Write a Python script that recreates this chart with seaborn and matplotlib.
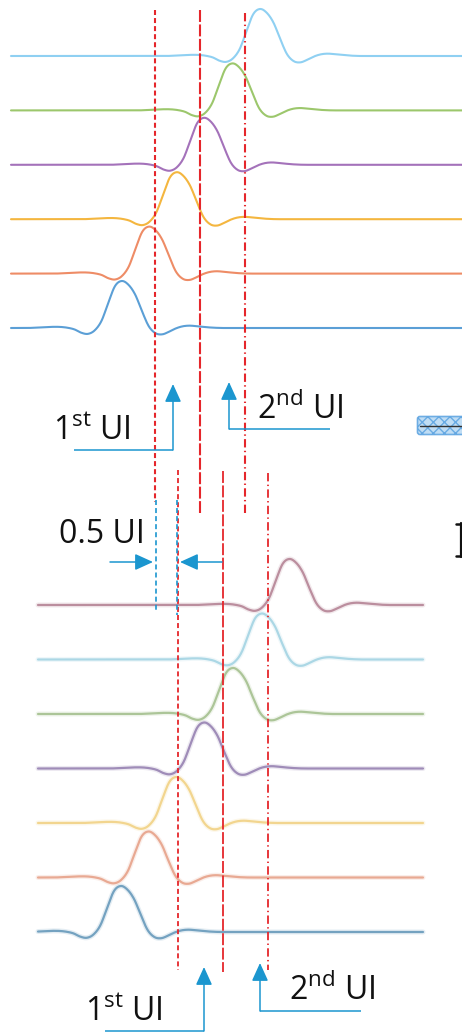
import numpy as np
import pandas as pd
import matplotlib
matplotlib.use("Agg")
import matplotlib.pyplot as plt
from matplotlib.patches import FancyBboxPatch
import seaborn as sns

sns.set_theme(style="white")
plt.rcParams["font.family"] = ["Open Sans", "DejaVu Sans"]
plt.rcParams["mathtext.fontset"] = "custom"
plt.rcParams["mathtext.rm"] = "Open Sans"
plt.rcParams["mathtext.it"] = "Open Sans:italic"
plt.rcParams["lines.scale_dashes"] = False

# ---- pulse response template (time in UI from the main cursor, amplitude normalised) ----
pulse_t = [-2.25, -2.1, -1.95, -1.8, -1.65, -1.5, -1.35, -1.2, -1.05, -0.9, -0.75, -0.6,
           -0.45, -0.3, -0.15, 0.0, 0.15, 0.3, 0.45, 0.6, 0.75, 0.9, 1.05, 1.2, 1.35,
           1.5, 1.65, 1.8, 1.95, 2.1, 2.25]
pulse_v = [0.0, 0.0, 0.005, 0.012, 0.02, 0.025, 0.022, 0.005, -0.03, -0.10, -0.125, -0.05,
           0.15, 0.53, 0.89, 1.0, 0.92, 0.71, 0.36, 0.04, -0.11, -0.135, -0.08, -0.01, 0.035,
           0.05, 0.04, 0.025, 0.012, 0.004, 0.0]

# main-cursor arrival time of each symbol (UI), bottom trace first
top_delays = [-0.74, -0.133, 0.482, 1.089, 1.718, 2.333]
bottom_delays = [-0.762, -0.149, 0.467, 1.089, 1.727, 2.371, 2.984]

top_colors = ["#5b9fd6", "#ee8c66", "#f4b63f", "#a472ba", "#9cc76c", "#8fd0f2"]
bottom_colors = ["#6e9ebe", "#e8a68e", "#f2d48a", "#9b87b5", "#a9c394", "#a8d6e4", "#b8899a"]

# sampling instants (UI)
top_cursors = [0.0, 1.0, 2.0]
bottom_cursors = [0.5, 1.5, 2.5]
half_ui_marks = [0.02, 0.49]

# ---- geometry ----
W, H = 462, 1033
UI_PX = 45.0
X0 = 155.0


def smooth_curve(ts, vs, n=14):
    ts = np.asarray(ts, float)
    vs = np.asarray(vs, float)
    out_t, out_v = [], []
    m = len(ts)
    s = np.linspace(0, 1, n, endpoint=False)
    h00 = 2 * s**3 - 3 * s**2 + 1
    h10 = s**3 - 2 * s**2 + s
    h01 = -2 * s**3 + 3 * s**2
    h11 = s**3 - s**2
    for i in range(m - 1):
        p0, p1 = vs[max(i - 1, 0)], vs[i]
        p2, p3 = vs[i + 1], vs[min(i + 2, m - 1)]
        m1, m2 = (p2 - p0) / 2, (p3 - p1) / 2
        out_v.append(h00 * p1 + h10 * m1 + h01 * p2 + h11 * m2)
        out_t.append(ts[i] + s * (ts[i + 1] - ts[i]))
    out_t.append([ts[-1]])
    out_v.append([vs[-1]])
    return np.concatenate(out_t), np.concatenate(out_v)


fine_t, fine_v = smooth_curve(pulse_t, pulse_v)


def traces(delays, t_start, t_end, base_px, step_px, amp_px):
    t = np.linspace(t_start, t_end, 800)
    rows = []
    for k, d in enumerate(delays):
        y = base_px - k * step_px - amp_px * np.interp(t - d, fine_t, fine_v, left=0, right=0)
        rows.append(pd.DataFrame({"t": t, "y": y, "trace": f"s{k}"}))
    return pd.concat(rows, ignore_index=True)


fig = plt.figure(figsize=(W / 100, H / 100), dpi=100)
fig.patch.set_facecolor("white")
ax = fig.add_axes([0, 0, 1, 1])
ax.set_xlim((0 - X0) / UI_PX, (W - X0) / UI_PX)
ax.set_ylim(H, 0)
ax.axis("off")

# upper panel
df_top = traces(top_delays, (11 - X0) / UI_PX, (W + 5 - X0) / UI_PX, 328, 54.4, 47)
sns.lineplot(data=df_top, x="t", y="y", hue="trace", palette=top_colors, estimator=None,
             sort=False, legend=False, lw=1.5, ax=ax)

# lower panel (softer rendering)
df_bot = traces(bottom_delays, (38 - X0) / UI_PX, (423 - X0) / UI_PX, 932, 54.5, 46)
sns.lineplot(data=df_bot, x="t", y="y", hue="trace", palette=bottom_colors, estimator=None,
             sort=False, legend=False, lw=3.6, alpha=0.18, ax=ax)
sns.lineplot(data=df_bot, x="t", y="y", hue="trace", palette=bottom_colors, estimator=None,
             sort=False, legend=False, lw=1.6, alpha=0.95, ax=ax)

RED = "#e5262b"
BLUE = "#1b96cf"
short_dash = (0, (3.6, 2.2))
long_dash = (0, (8.6, 1.8))
dash_dot = (0, (6.0, 2.4, 1.0, 2.4))

for x, (y0, y1), ls in zip(top_cursors, [(10, 502), (10, 513), (13, 515)],
                           [short_dash, long_dash, dash_dot]):
    ax.plot([x, x], [y0, y1], color=RED, lw=1.5, ls=ls)
for x, (y0, y1), ls in zip(bottom_cursors, [(470, 970), (471, 972), (473, 970)],
                           [short_dash, long_dash, dash_dot]):
    ax.plot([x, x], [y0, y1], color=RED, lw=1.3, ls=ls)
for x, (y0, y1) in zip(half_ui_marks, [(500, 612), (500, 615)]):
    ax.plot([x, x], [y0, y1], color=BLUE, lw=1.2, ls=short_dash)

# ---- annotations (pixel space) ----
ann = fig.add_axes([0, 0, 1, 1])
ann.set_xlim(0, W)
ann.set_ylim(H, 0)
ann.axis("off")
ann.patch.set_alpha(0)


def arrow(x0, y0, x1, y1):
    ann.annotate("", xy=(x1, y1), xytext=(x0, y0),
                 arrowprops=dict(arrowstyle="-|>,head_length=1.1,head_width=0.5",
                                 mutation_scale=10, color=BLUE, lw=1.1,
                                 shrinkA=0, shrinkB=0))


def elbow(xh, y, xv, ytip):
    ann.plot([xh, xv], [y, y], color=BLUE, lw=1.1, solid_capstyle="butt")
    arrow(xv, y, xv, ytip)


elbow(74, 450, 173, 384)
elbow(330, 429, 229, 382)
elbow(105, 1031, 204, 967)
elbow(361, 1011, 260, 963)
arrow(110, 562, 153, 562)
arrow(222, 562, 180, 562)

txt = dict(fontsize=23, color="#111111", ha="left", va="baseline")
ann.text(53, 439, r"1$^{\mathrm{st}}$ UI", **txt)
ann.text(257, 419, r"2$^{\mathrm{nd}}$ UI", **txt)
ann.text(59, 543, "0.5 UI", **txt)
ann.text(85, 1020, r"1$^{\mathrm{st}}$ UI", **txt)
ann.text(289, 1000, r"2$^{\mathrm{nd}}$ UI", **txt)

# small clipped elements on the right edge
ann.add_patch(FancyBboxPatch((420, 419), 45, 13, boxstyle="round,pad=2.5",
                             facecolor="#b5d7f3", edgecolor="#5aa2e0", lw=1.2,
                             hatch="xxx", alpha=0.85))
ann.plot([420, 462], [426, 426], color="#333333", lw=1.0)
ann.plot([460.8, 460.8], [523, 557], color="#111111", lw=1.6)
ann.plot([456, 461.5], [524, 524], color="#111111", lw=1.8)
ann.plot([456, 461.5], [556, 556], color="#111111", lw=1.8)

fig.savefig("out.png", dpi=100, facecolor="white")
